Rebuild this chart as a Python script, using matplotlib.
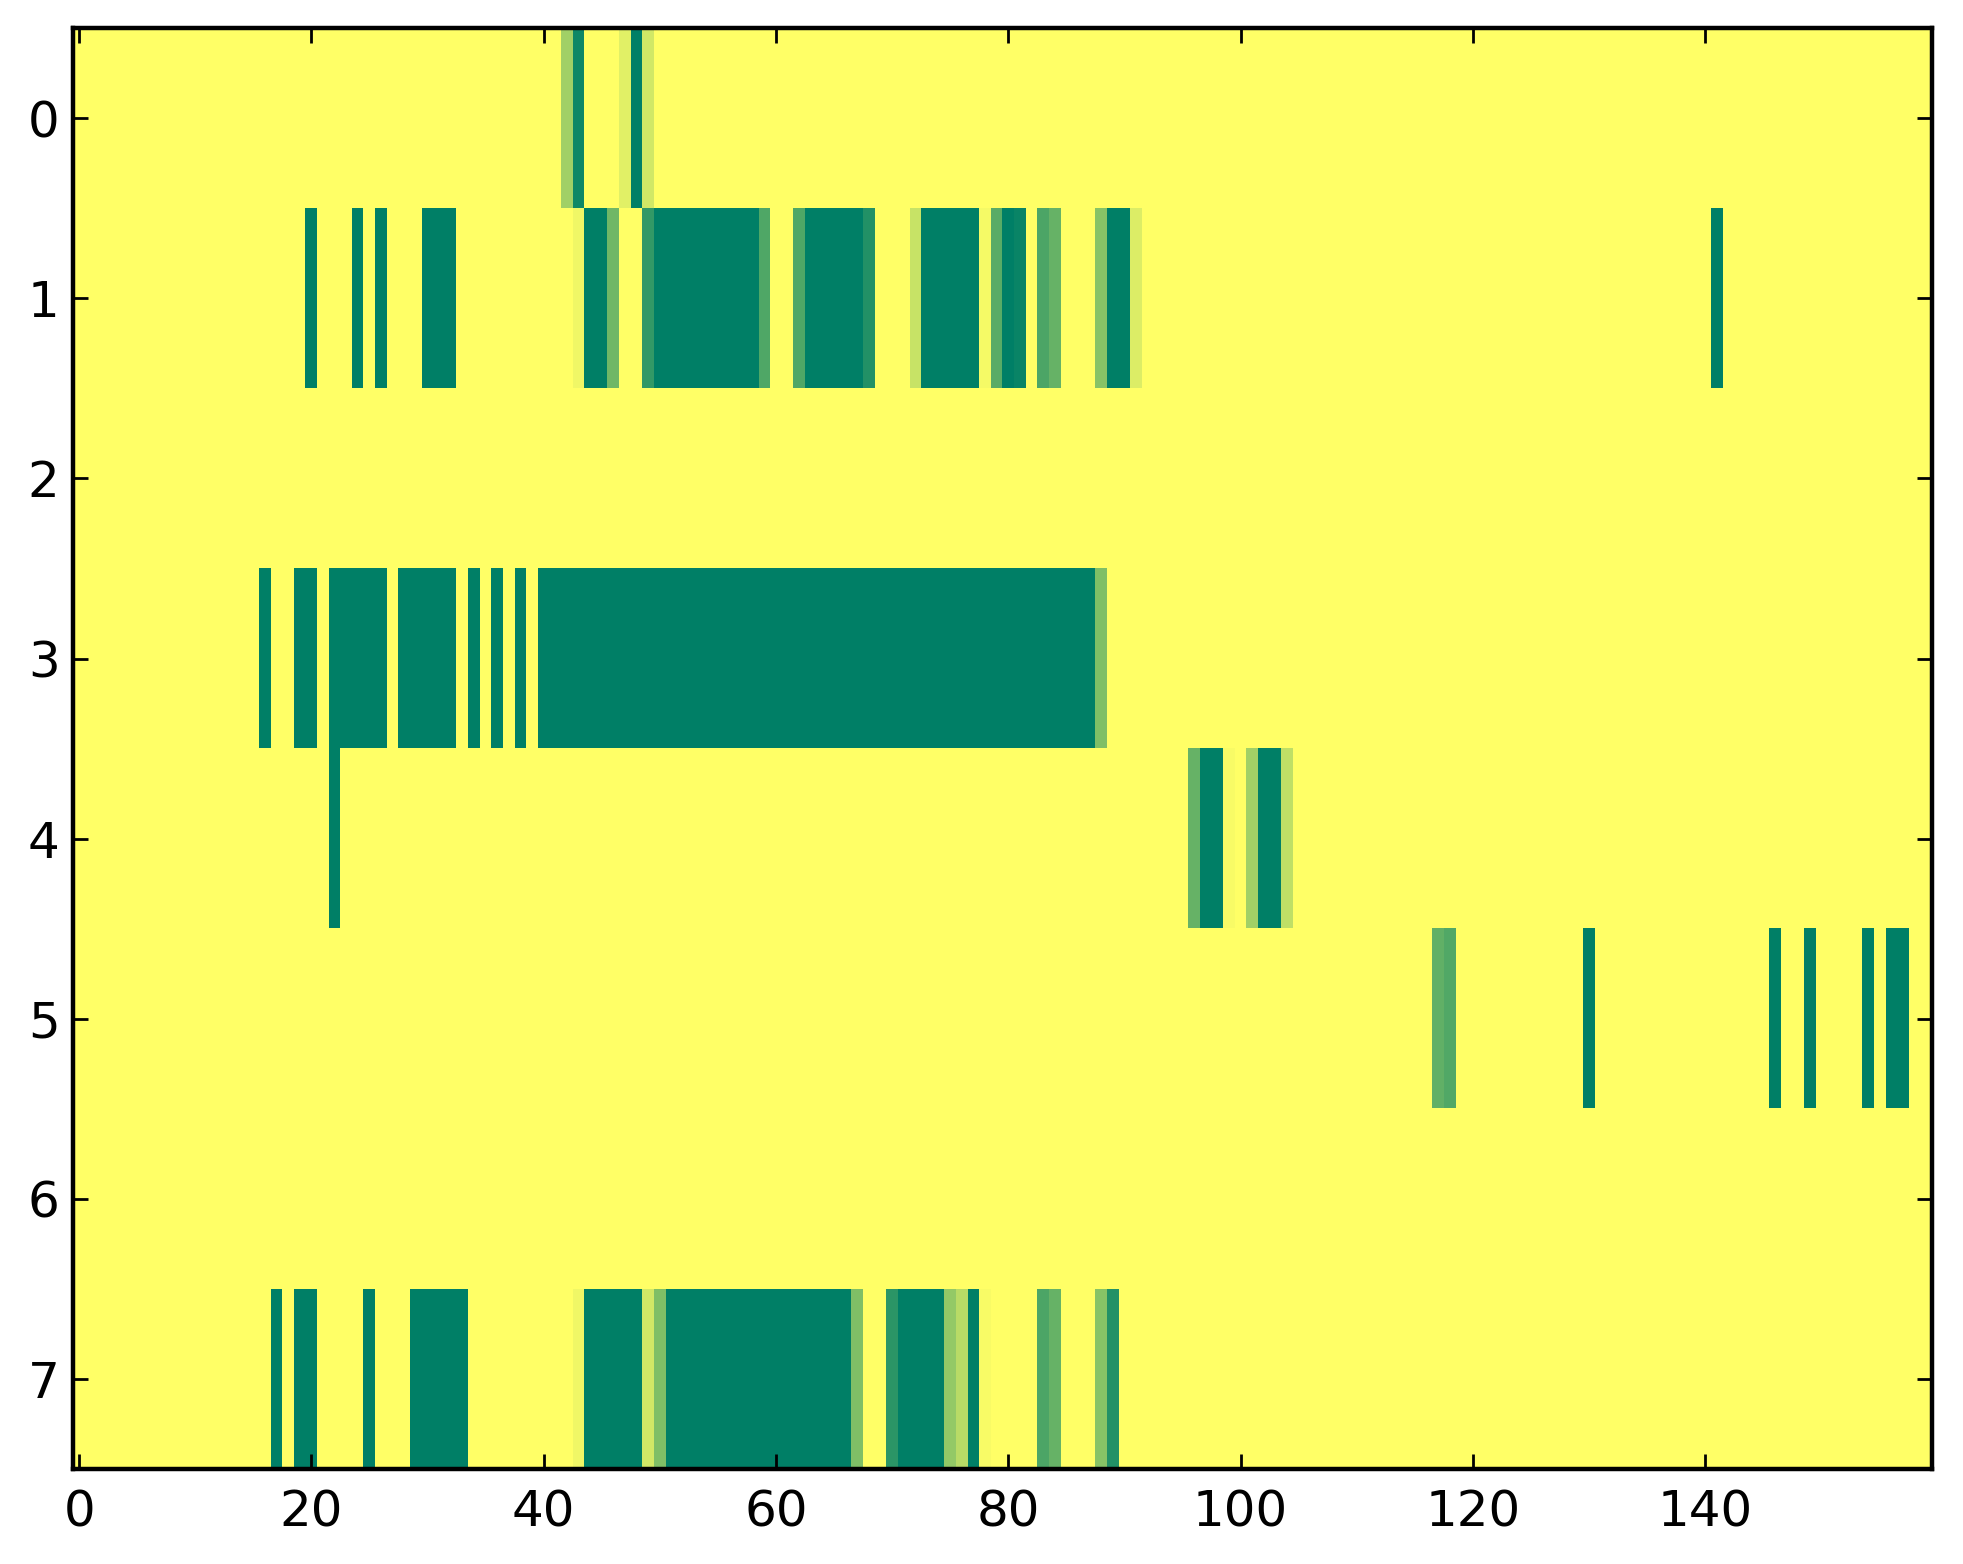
import numpy as np
import matplotlib
matplotlib.use('Agg')
import matplotlib.pyplot as plt

n_rows = 8
n_cols = 160

# runs of cells per row: (first col, last col, value), everything else is 0
row0 = [(42, 42, 0.37), (43, 43, 0.94), (47, 47, 0.12), (48, 48, 1.0), (49, 49, 0.18)]
row1 = [(20, 20, 1.0), (24, 24, 1.0), (26, 26, 1.0), (30, 32, 1.0),
        (43, 43, 0.06), (44, 45, 1.0), (46, 46, 0.56), (49, 49, 0.8),
        (50, 58, 1.0), (59, 59, 0.69), (62, 62, 0.69), (63, 67, 1.0),
        (68, 68, 0.86), (72, 72, 0.22), (73, 77, 1.0), (78, 78, 0.04),
        (79, 79, 0.65), (80, 80, 1.0), (81, 81, 0.96), (83, 83, 0.7),
        (84, 84, 0.6), (88, 88, 0.47), (89, 90, 1.0), (91, 91, 0.14),
        (141, 141, 1.0)]
row2 = []
row3 = [(16, 16, 1.0), (19, 20, 1.0), (22, 26, 1.0), (28, 32, 1.0),
        (34, 34, 1.0), (36, 36, 1.0), (38, 38, 1.0), (40, 87, 1.0),
        (88, 88, 0.5)]
row4 = [(22, 22, 1.0), (96, 96, 0.6), (97, 98, 1.0), (99, 99, 0.03),
        (101, 101, 0.37), (102, 103, 1.0), (104, 104, 0.25)]
row5 = [(117, 117, 0.62), (118, 118, 0.68), (130, 130, 1.0), (146, 146, 1.0),
        (149, 149, 1.0), (154, 154, 1.0), (156, 157, 1.0)]
row6 = []
row7 = [(17, 17, 1.0), (19, 20, 1.0), (25, 25, 1.0), (29, 33, 1.0),
        (43, 43, 0.06), (44, 48, 1.0), (49, 49, 0.18), (50, 50, 0.5),
        (51, 66, 1.0), (67, 67, 0.5), (70, 70, 0.83), (71, 74, 1.0),
        (75, 75, 0.42), (76, 76, 0.28), (77, 77, 1.0), (78, 78, 0.03),
        (83, 83, 0.7), (84, 84, 0.6), (88, 88, 0.47), (89, 89, 0.86)]

rows = [row0, row1, row2, row3, row4, row5, row6, row7]

grid = np.zeros((n_rows, n_cols))
for i, runs in enumerate(rows):
    for a, b, v in runs:
        grid[i, a:b + 1] = v

fig = plt.figure(figsize=(9.815, 7.82), dpi=200)
ax = fig.add_axes([0.0374, 0.0607, 0.9466, 0.9213])
ax.imshow(grid, cmap='summer_r', vmin=0, vmax=1, aspect='auto',
          interpolation='nearest')

ax.set_xticks(np.arange(0, 141, 20))
ax.set_yticks(np.arange(0, 8))
ax.tick_params(direction='in', top=True, right=True, length=5.4, width=1.0,
               labelsize=18)
ax.tick_params(axis='x', pad=7)
ax.tick_params(axis='y', pad=5)
for s in ax.spines.values():
    s.set_linewidth(1.6)

fig.savefig('out.png', dpi=200)
